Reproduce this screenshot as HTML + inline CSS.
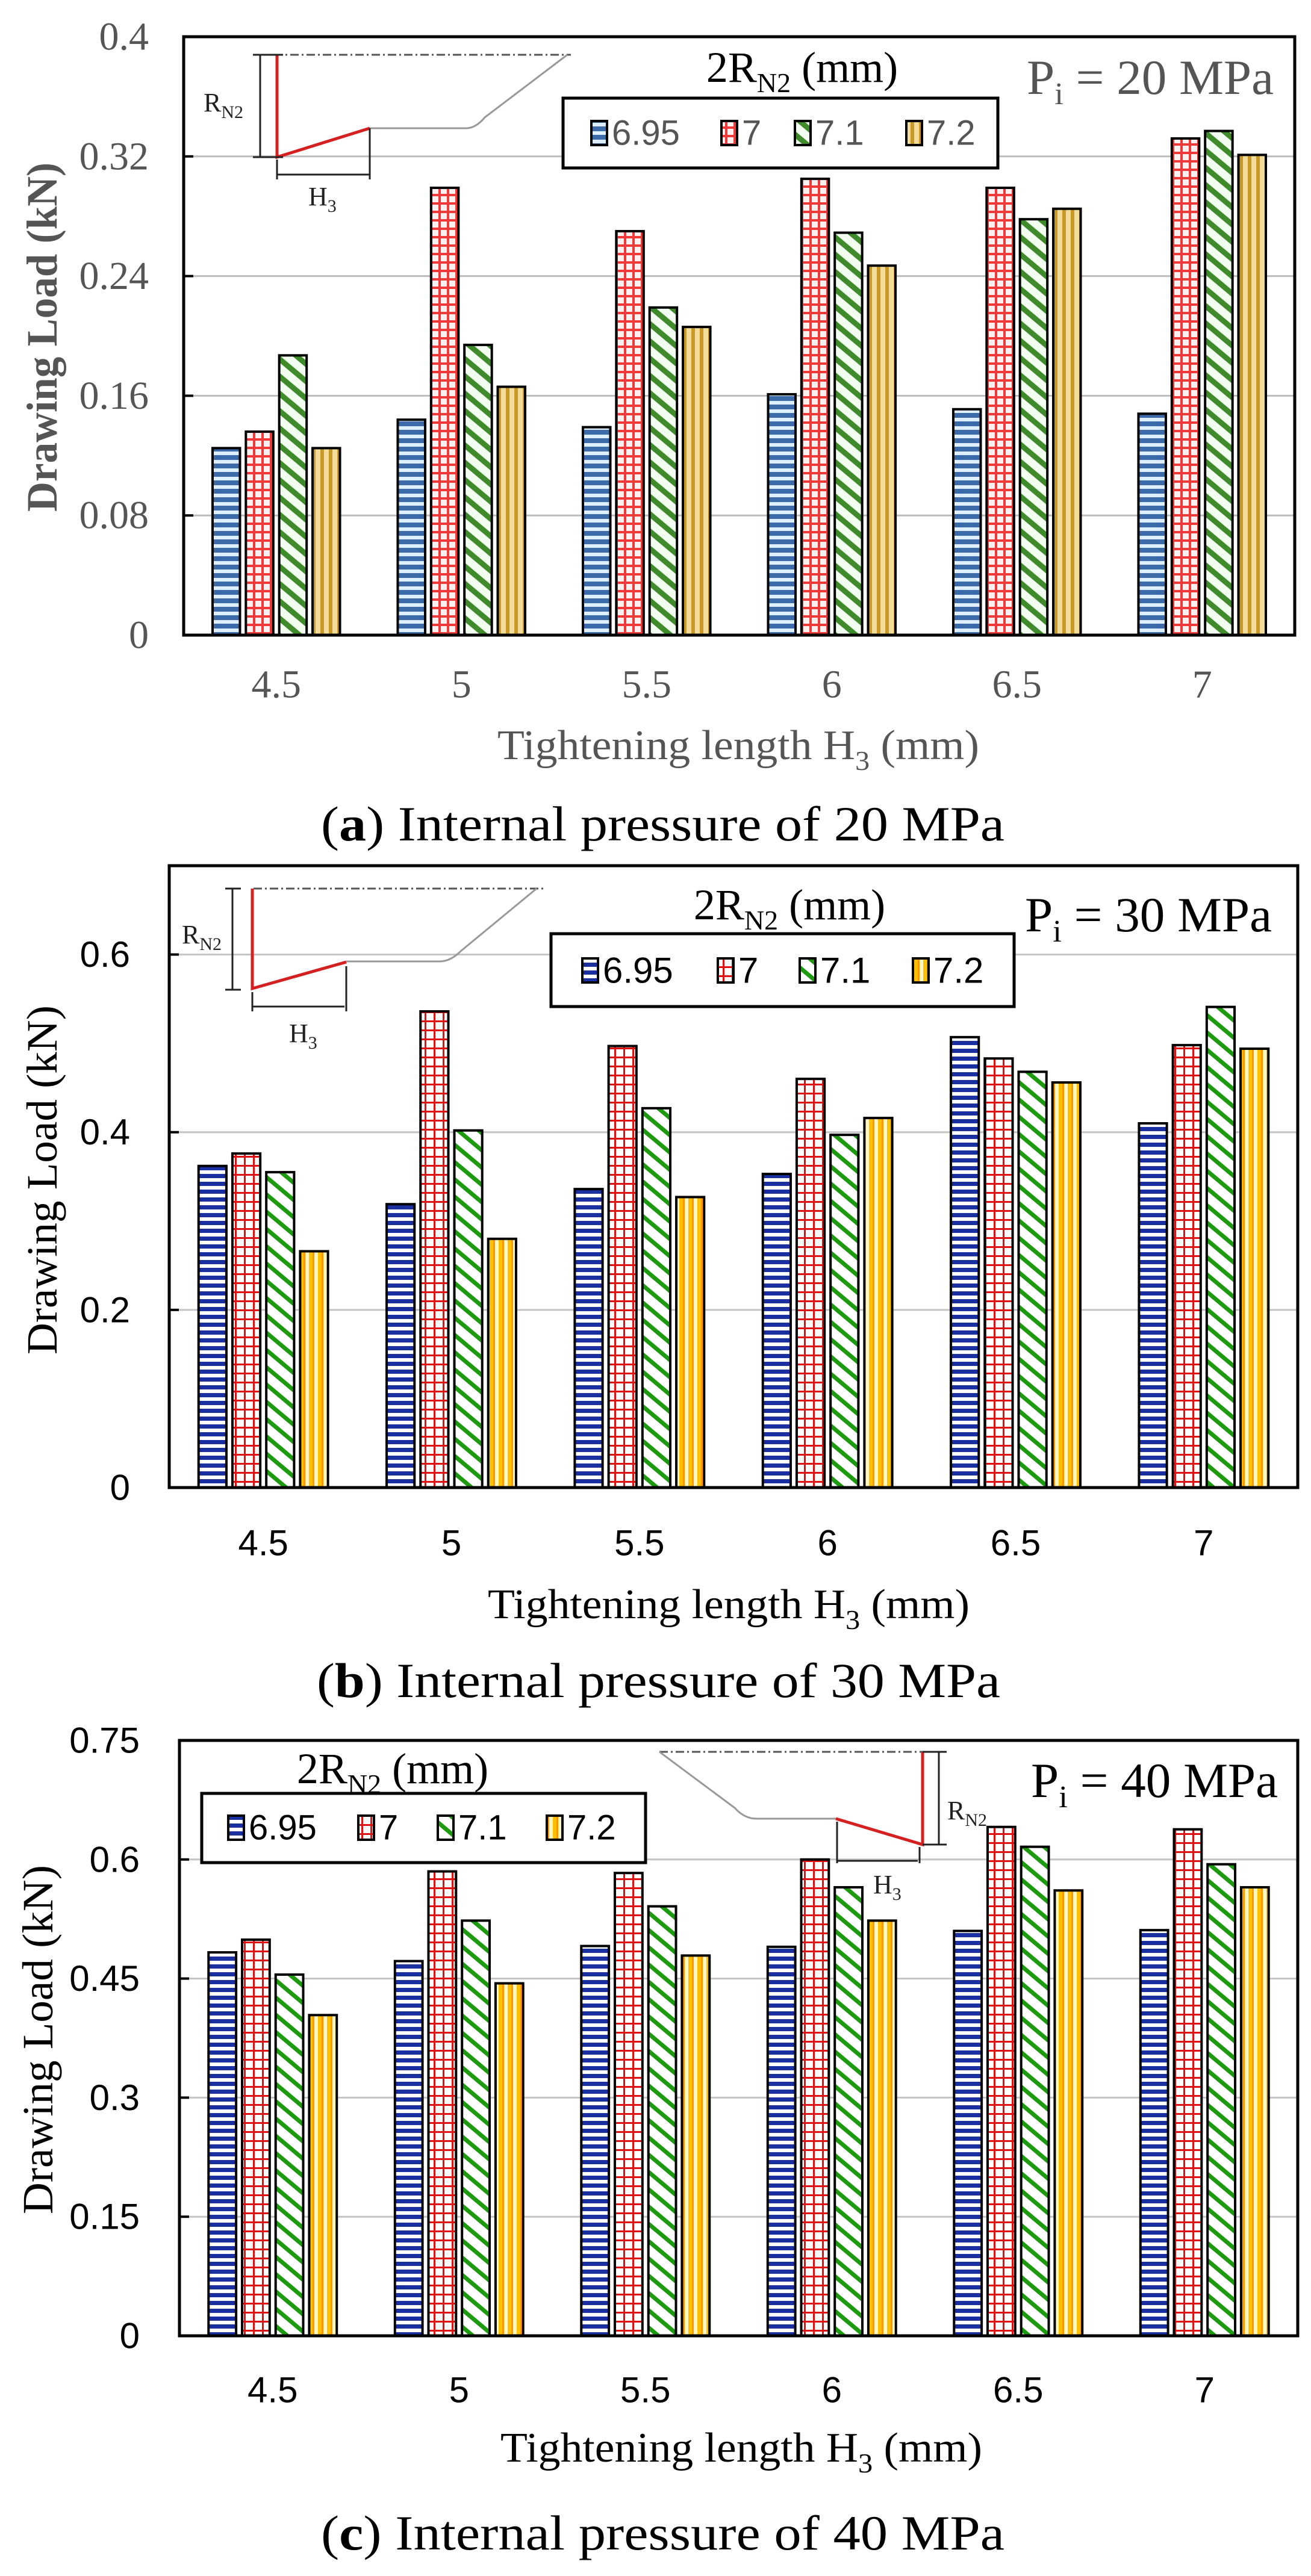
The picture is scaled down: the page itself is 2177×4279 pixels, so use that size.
<!DOCTYPE html>
<html><head><meta charset="utf-8"><style>
html,body{margin:0;padding:0;background:#fff}
svg{display:block}
</style></head><body>
<svg id="fig" width="2177" height="4279" viewBox="0 0 2177 4279" xmlns="http://www.w3.org/2000/svg">
<defs>
<pattern id="pBlueA" patternUnits="userSpaceOnUse" width="20" height="14"><rect width="20" height="14" fill="#dceeff"/><rect width="20" height="8" fill="#3d6aa8"/></pattern>
<pattern id="pBlue" patternUnits="userSpaceOnUse" width="20" height="13"><rect width="20" height="13" fill="#fff"/><rect width="20" height="7" fill="#1a2fa0"/></pattern>
<pattern id="pRedA" patternUnits="userSpaceOnUse" width="14" height="14"><rect width="14" height="14" fill="#fff0f0"/><rect width="14" height="4" fill="#f03a3a"/><rect width="4" height="14" fill="#f03a3a"/></pattern>
<pattern id="pRed" patternUnits="userSpaceOnUse" width="15" height="15"><rect width="15" height="15" fill="#fff"/><rect width="15" height="3" fill="#e01010"/><rect width="3" height="15" fill="#e01010"/></pattern>
<pattern id="pGreenA" patternUnits="userSpaceOnUse" width="22" height="22" patternTransform="rotate(40)"><rect width="22" height="22" fill="#f2fff0"/><rect width="22" height="9" fill="#3f8a2a"/></pattern>
<pattern id="pGreen" patternUnits="userSpaceOnUse" width="22" height="22" patternTransform="rotate(40)"><rect width="22" height="22" fill="#fff"/><rect width="22" height="7" fill="#1e9a10"/></pattern>
<pattern id="pGoldA" patternUnits="userSpaceOnUse" width="14" height="20"><rect width="14" height="20" fill="#f3dc9a"/><rect width="6" height="20" fill="#c99a2a"/></pattern>
<pattern id="pGold" patternUnits="userSpaceOnUse" width="15" height="20"><rect width="15" height="20" fill="#fff6c0"/><rect x="3" width="6" height="20" fill="#ffc000"/><rect x="9" width="3" height="20" fill="#ff9800"/></pattern>
</defs>
<g id="root"></g>
</svg>
<script>
// ---- data ----
const categories = ["4.5","5","5.5","6","6.5","7"];
const seriesNames = ["6.95","7","7.1","7.2"];
// chart (a) Pi = 20 MPa
const a695 = [0.125,0.144,0.139,0.161,0.151,0.148];
const a700 = [0.136,0.299,0.270,0.305,0.299,0.332];
const a710 = [0.187,0.194,0.219,0.269,0.278,0.337];
const a720 = [0.125,0.166,0.206,0.247,0.285,0.321];
const aTicks = [0,0.08,0.16,0.24,0.32,0.4];
const aTickLabels = ["0","0.08","0.16","0.24","0.32","0.4"];
// chart (b) Pi = 30 MPa
const b695 = [0.362,0.319,0.336,0.353,0.507,0.410];
const b700 = [0.376,0.536,0.497,0.460,0.483,0.498];
const b710 = [0.355,0.402,0.427,0.397,0.468,0.541];
const b720 = [0.266,0.280,0.327,0.416,0.456,0.494];
const bTicks = [0,0.2,0.4,0.6];
const bTickLabels = ["0","0.2","0.4","0.6"];
// chart (c) Pi = 40 MPa
const c695 = [0.483,0.472,0.491,0.490,0.510,0.511];
const c700 = [0.499,0.585,0.583,0.600,0.641,0.638];
const c710 = [0.455,0.523,0.541,0.565,0.616,0.594];
const c720 = [0.404,0.444,0.479,0.523,0.561,0.565];
const cTicks = [0,0.15,0.3,0.45,0.6,0.75];
const cTickLabels = ["0","0.15","0.3","0.45","0.6","0.75"];

const NS="http://www.w3.org/2000/svg";
const root=document.getElementById('root');
function mk(tag,attrs,parent,text){const e=document.createElementNS(NS,tag);for(const k in attrs)e.setAttribute(k,attrs[k]);if(text!==undefined)e.textContent=text;(parent||root).appendChild(e);return e;}

function chart(o){
  const g=mk('g',{});
  
  
  const yS=v=>o.base-(v/o.max)*(o.base-o.top);
  const cw=(o.right-o.left)/categories.length;
  const xC=i=>o.left+cw*(i+0.5);
  o.ticks.forEach((t,i)=>{
    const y=yS(t);
    if(t>0){const gl=mk('line',{x1:o.left,x2:o.right,y1:y,y2:y,stroke:o.grid,'stroke-width':3},g);
      
      }
    mk('line',{x1:o.left,x2:o.left+16,y1:y,y2:y,stroke:'#000','stroke-width':4},g);
    const tl=mk('text',{x:o.tickX,y:y,'text-anchor':'end','dominant-baseline':'central','font-family':o.tickFont,'font-size':o.tickSize,fill:o.tickColor},g,o.tickLabels[i]);
    
    
  });
  const series=[o.s0,o.s1,o.s2,o.s3];
  const bw=cw*0.148, pitch=cw*0.18;
  series.forEach((s,si)=>{
    s.forEach((v,ci)=>{
      const x=xC(ci)+(si-1.5)*pitch-bw/2;
      const y=yS(v);
      const r=mk('rect',{x:x,y:y,width:bw,height:o.base-y,fill:'url(#'+o.pats[si]+')',stroke:'#000','stroke-width':4},g);
      
      
    });
  });
  const f=mk('rect',{x:o.left,y:o.top,width:o.right-o.left,height:o.base-o.top,fill:'none',stroke:'#000','stroke-width':5},g);
  
  
  categories.forEach((c,i)=>{
    const t=mk('text',{x:xC(i),y:o.xLabY,'text-anchor':'middle','dominant-baseline':'central','font-family':o.tickFont,'font-size':o.tickSize,fill:o.tickColor},g,c);
    
    
  });
  const xt=mk('text',{x:o.xTitleX,y:o.xTitleY,'dominant-baseline':'central','font-family':'Liberation Serif, serif','font-size':70,fill:o.titleColor,textLength:800,lengthAdjust:'spacingAndGlyphs'},g);
  
  
  mk('tspan',{},xt,'Tightening  length H');
  mk('tspan',{'baseline-shift':'sub','font-size':46},xt,'3');
  mk('tspan',{},xt,' (mm)');
  const yt=mk('text',{x:0,y:0,transform:'translate('+o.yTitleX+','+o.yTitleY+') rotate(-90)','text-anchor':'middle','dominant-baseline':'central','font-family':'Liberation Serif, serif','font-size':72,'font-weight':o.yBold,fill:o.titleColor,textLength:580,lengthAdjust:'spacingAndGlyphs'},g,'Drawing  Load (kN)');
  
  
  const cap=mk('text',{x:o.capX,y:o.capY,'dominant-baseline':'central','font-family':'Liberation Serif, serif','font-size':82,fill:'#000',textLength:1135,lengthAdjust:'spacingAndGlyphs'},g);
  
  
  mk('tspan',{},cap,'(');
  mk('tspan',{'font-weight':'bold'},cap,o.letter);
  mk('tspan',{},cap,') Internal pressure of '+o.p+' MPa');
  const pl=mk('text',{x:o.pX,y:o.pY,'dominant-baseline':'central','font-family':'Liberation Serif, serif','font-size':82,fill:o.titleColor,textLength:410,lengthAdjust:'spacingAndGlyphs'},g);
  
  
  mk('tspan',{},pl,'P');
  mk('tspan',{'baseline-shift':'sub','font-size':52},pl,'i');
  mk('tspan',{},pl,' = '+o.p+' MPa');
  const lg=mk('g',{},g);
  
  
  const L=o.leg;
  mk('rect',{x:L.x,y:L.y,width:L.w,height:L.h,fill:'#fff',stroke:'#000','stroke-width':5},lg);
  const lt=mk('text',{x:L.tx,y:L.ty,'text-anchor':'middle','dominant-baseline':'central','font-family':'Liberation Serif, serif','font-size':72,fill:'#000'},lg);
  
  
  mk('tspan',{},lt,'2R');
  mk('tspan',{'baseline-shift':'sub','font-size':46},lt,'N2');
  mk('tspan',{},lt,' (mm)');
  seriesNames.forEach((n,i)=>{
    const e=mk('g',{},lg);
    
    
    const iy=L.iy;
    mk('rect',{x:L.ix[i],y:iy-20,width:26,height:40,fill:'url(#'+o.pats[i]+')',stroke:'#000','stroke-width':4},e);
    mk('text',{x:L.ix[i]+34,y:iy,'dominant-baseline':'central','font-family':'Liberation Sans, sans-serif','font-size':L.fs,fill:o.legColor},e,n);
  });
  const I=o.ins;
  const ig=mk('g',{},g);
  
  
  mk('line',{x1:I.dx1,x2:I.dx2,y1:I.y0,y2:I.y0,stroke:'#555','stroke-width':3,'stroke-dasharray':'14 5 3 5'},ig);
  mk('path',{d:I.gray,fill:'none',stroke:'#999','stroke-width':3},ig);
  mk('path',{d:I.red,fill:'none',stroke:'#d42020','stroke-width':5},ig);
  mk('path',{d:I.dim,fill:'none',stroke:'#222','stroke-width':3},ig);
  const rl=mk('text',{x:I.rx,y:I.ry,'dominant-baseline':'central','font-family':'Liberation Serif, serif','font-size':44,fill:'#222'},ig);
  mk('tspan',{},rl,'R');mk('tspan',{'baseline-shift':'sub','font-size':30},rl,'N2');
  const hl=mk('text',{x:I.hx,y:I.hy,'dominant-baseline':'central','font-family':'Liberation Serif, serif','font-size':44,fill:'#222'},ig);
  mk('tspan',{},hl,'H');mk('tspan',{'baseline-shift':'sub','font-size':30},hl,'3');
}

chart({name:'chart-a-20mpa',left:305,right:2150,top:61,base:1055,max:0.4,ticks:aTicks,tickLabels:aTickLabels,
  s0:a695,s1:a700,s2:a710,s3:a720,pats:['pBlueA','pRedA','pGreenA','pGoldA'],grid:'#bcbcbc',
  tickX:247,tickFont:'Liberation Serif, serif',tickSize:66,tickColor:'#555',titleColor:'#555',yBold:'bold',
  xLabY:1137,xTitleX:826,xTitleY:1238,yTitleX:70,yTitleY:560,capX:533,capY:1368,letter:'a',p:'20',
  pX:1705,pY:128,legColor:'#555',
  leg:{x:935,y:163,w:722,h:116,tx:1332,ty:112,iy:221,ix:[982,1198,1320,1505],fs:58},
  ins:{y0:91,dx1:455,dx2:948,gray:'M614,213 L774,213 Q790,213 805,195 L942,91',red:'M460,91 L460,261 L614,213',
       dim:'M420,91 L470,91 M432,91 L432,261 M420,261 L470,261 M460,265 L460,298 M460,290 L614,290 M614,213 L614,298',
       rx:338,ry:170,hx:512,hy:326}});

chart({name:'chart-b-30mpa',left:281,right:2155,top:1438,base:2471,max:0.7,ticks:bTicks,tickLabels:bTickLabels,
  s0:b695,s1:b700,s2:b710,s3:b720,pats:['pBlue','pRed','pGreen','pGold'],grid:'#c4c4c4',
  tickX:216,tickFont:'Liberation Sans, sans-serif',tickSize:60,tickColor:'#000',titleColor:'#000',yBold:'normal',
  xLabY:2563,xTitleX:810,xTitleY:2665,yTitleX:70,yTitleY:1960,capX:526,capY:2791,letter:'b',p:'30',
  pX:1702,pY:1519,legColor:'#000',
  leg:{x:915,y:1551,w:769,h:121,tx:1311,ty:1503,iy:1612,ix:[967,1192,1328,1516],fs:60},
  ins:{y0:1476,dx1:421,dx2:905,gray:'M575,1597 L730,1597 Q748,1597 765,1580 L891,1476',red:'M419,1476 L419,1642 L575,1598',
       dim:'M374,1476 L400,1476 M386,1476 L386,1644 M374,1644 L400,1644 M419,1648 L419,1680 M419,1672 L572,1672 M575,1605 L575,1680',
       rx:302,ry:1552,hx:480,hy:1716}});

chart({name:'chart-c-40mpa',left:298,right:2155,top:2891,base:3880,max:0.75,ticks:cTicks,tickLabels:cTickLabels,
  s0:c695,s1:c700,s2:c710,s3:c720,pats:['pBlue','pRed','pGreen','pGold'],grid:'#c4c4c4',
  tickX:232,tickFont:'Liberation Sans, sans-serif',tickSize:60,tickColor:'#000',titleColor:'#000',yBold:'normal',
  xLabY:3970,xTitleX:831,xTitleY:4066,yTitleX:63,yTitleY:3388,capX:533,capY:4207,letter:'c',p:'40',
  pX:1712,pY:2957,legColor:'#000',
  leg:{x:335,y:2979,w:737,h:115,tx:652,ty:2938,iy:3036,ix:[379,595,727,908],fs:58},
  ins:{y0:2910,dx1:1095,dx2:1535,gray:'M1388,3021 L1256,3021 Q1236,3021 1220,3003 L1095,2910',red:'M1532,2910 L1532,3064 L1388,3021',
       dim:'M1532,2910 L1572,2910 M1559,2910 L1559,3064 M1532,3064 L1572,3064 M1390,3026 L1390,3095 M1390,3091 L1524,3091 M1527,3068 L1527,3095',
       rx:1573,ry:3007,hx:1450,hy:3130}});
</script>
</body></html>
